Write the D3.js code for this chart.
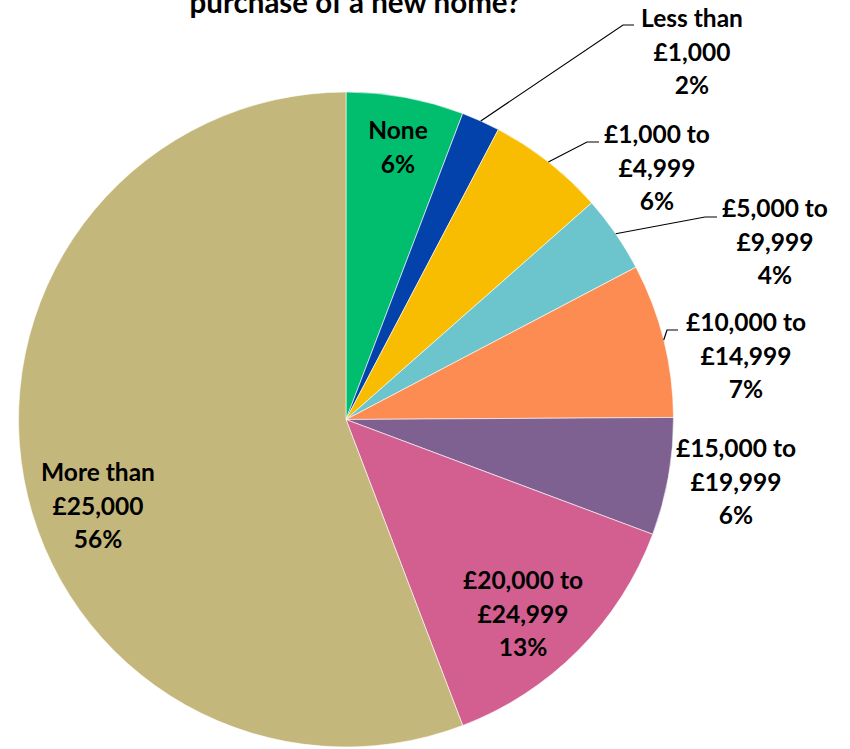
<!DOCTYPE html>
<html>
<head>
<meta charset="utf-8">
<script src="https://cdn.jsdelivr.net/npm/d3@7"></script>
<style>
    body { margin: 0; background: #fff; }
    svg { display: block; }
    text { font-family: Lato, "Open Sans", sans-serif; font-weight: bold; fill: #000; }
</style>
</head>
<body>
<svg id="chart" width="850" height="749"></svg>
<script>
// slices, clockwise from 12 o'clock
const categories = ["None", "Less than £1,000", "£1,000 to £4,999", "£5,000 to £9,999",
    "£10,000 to £14,999", "£15,000 to £19,999", "£20,000 to £24,999", "More than £25,000"];
const values = [5.8, 1.9, 5.8, 3.8, 7.6, 5.8, 13.5, 55.8];
const percentLabels = ["6%", "2%", "6%", "4%", "7%", "6%", "13%", "56%"];
const labelLines = [
    ["None"],
    ["Less than", "£1,000"],
    ["£1,000 to", "£4,999"],
    ["£5,000 to", "£9,999"],
    ["£10,000 to", "£14,999"],
    ["£15,000 to", "£19,999"],
    ["£20,000 to", "£24,999"],
    ["More than", "£25,000"]
];
const colors = ["#00be6e", "#0341ab", "#f8bc00", "#6cc5cd", "#fd8c53", "#7e6091", "#d25f90", "#c4b77b"];

// where Excel put each label block (centre x, first baseline), and leader elbows
const labelAt = [[398, 139], [692, 27], [657, 143], [775, 217], [746, 331], [736, 457], [523, 589], [98, 481]];
const elbows = { 1: [[623, 25], [634, 25]], 2: [[587, 142], [599, 142]], 3: [[705, 217], [717, 217]], 4: [[667, 330], [678, 330]] };

const cx = 346, cy = 419.5, radius = 327.5;
const lineHeight = 33.5;

const svg = d3.select("#chart");

// only the last line of the title fits on the page
svg.append("text")
    .attr("x", 355)
    .attr("y", 13)
    .attr("text-anchor", "middle")
    .style("font-size", "29.5px")
    .text("purchase of a new home?");

const pie = d3.pie().sort(null).value(d => d);
const arc = d3.arc().innerRadius(0).outerRadius(radius);
const arcs = pie(values);

const g = svg.append("g").attr("transform", `translate(${cx},${cy})`);

g.selectAll("path")
    .data(arcs)
    .join("path")
    .attr("d", arc)
    .attr("fill", (d, i) => colors[i])
    .attr("stroke", "#fff")
    .attr("stroke-width", 0.6);

// leader lines start at the middle of the slice's outer edge
arcs.forEach((d, i) => {
    if (!elbows[i]) return;
    const a = (d.startAngle + d.endAngle) / 2;
    const start = [cx + radius * Math.sin(a), cy - radius * Math.cos(a)];
    svg.append("polyline")
        .attr("points", [start, ...elbows[i]].map(p => p.join(",")).join(" "))
        .attr("fill", "none")
        .attr("stroke", "#000")
        .attr("stroke-width", 1.2);
});

categories.forEach((c, i) => {
    const lines = labelLines[i].concat(percentLabels[i]);
    const t = svg.append("text")
        .attr("text-anchor", "middle")
        .style("font-size", "24.5px");
    lines.forEach((s, k) => {
        t.append("tspan")
            .attr("x", labelAt[i][0])
            .attr("y", labelAt[i][1] + k * lineHeight)
            .text(s);
    });
});
</script>
</body>
</html>
